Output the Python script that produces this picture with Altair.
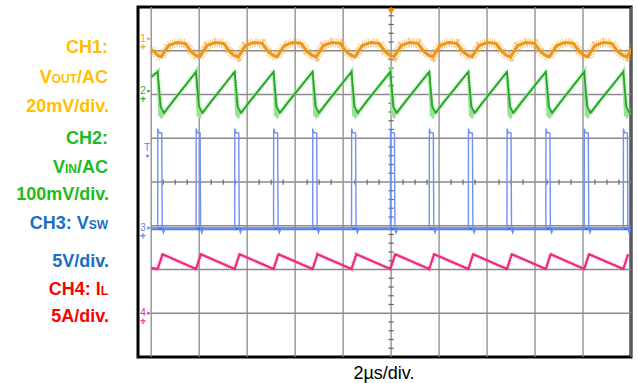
import altair as alt
import pandas as pd
import numpy as np

# ---------------- data ----------------
# time base: 2 us/div, screen spans -10 .. +10 us; vertical in divisions (-4 .. +4)
switch_t = [-9.73, -8.13, -6.52, -4.90, -3.27, -1.65, -0.03, 1.59, 3.22, 4.83, 6.45, 8.05, 9.68]

# CH1 VOUT/AC ripple (div) : start of trace + per-cycle shape (offset from switch, level)
ch1_start_t = [-10.0, -9.85]
ch1_start_v = [3.02, 2.97]
ch1_off = [0.00, 0.15, 0.45, 0.80, 1.15, 1.40]
ch1_lvl = [2.89, 2.86, 3.12, 3.19, 3.17, 2.98]

# CH2 VIN/AC (div): main trace and its lighter noise envelope
ch2_start_t = [-10.0]
ch2_start_v = [2.40]
ch2_off = [0.00, 0.06, 0.12, 0.26, 0.60]
ch2_lvl = [2.52, 2.14, 1.73, 1.58, 1.82]
ch2h_off = [0.00, 0.07, 0.11, 0.15, 0.22, 0.30, 0.60]
ch2h_lvl = [2.52, 1.50, 1.95, 1.45, 1.62, 1.58, 1.82]

# CH3 VSW (div)
ch3_base = -1.07
ch3_start_t = [-10.0]
ch3_start_v = [-1.07]
ch3_off = [0.00, 0.005, 0.05, 0.17, 0.19, 0.24, 0.30]
ch3_lvl = [-1.07, 1.22, 1.13, 1.12, -1.07, -1.16, -1.07]

# CH4 IL (div)
ch4_start_t = [-10.0]
ch4_start_v = [-1.96]
ch4_off = [0.00, 0.20]
ch4_lvl = [-1.99, -1.65]

# channel ground markers (div)
marker_names = ["1", "2", "3", "4"]
marker_lvl = [3.27, 2.08, -1.05, -3.0]
marker_col = ["#F0A030", "#2DB52D", "#5B82F0", "#EC2A7E"]
trig_lvl = 0.78
trig_time = 0.0

grid_t = [-10, -8, -6, -4, -2, 0, 2, 4, 6, 8, 10]
grid_v = [-3, -2, -1, 0, 1, 2, 3]

# ---------------- helpers ----------------
def build(st, sv, off, lvl):
    rows = list(zip(st, sv))
    for ts in switch_t:
        for o, l in zip(off, lvl):
            rows.append((ts + o, l))
    df = pd.DataFrame(rows, columns=["t", "v"])
    df["i"] = range(len(df))
    return df

XS = alt.Scale(domain=[-10.55, 10], nice=False, zero=False)
YS = alt.Scale(domain=[-4, 4], nice=False, zero=False)
X = alt.X("t:Q", scale=XS, axis=None)
Y = alt.Y("v:Q", scale=YS, axis=None)

def trace(df, **kw):
    return alt.Chart(df).mark_line(clip=True, interpolate="linear", **kw).encode(
        x=X, y=Y, order=alt.Order("i:Q"))

one = pd.DataFrame({"a": [0]})

# ---------------- grid ----------------
vg = pd.DataFrame({"t": grid_t}); vg["v"] = -4.0; vg["v2"] = 4.0
hg = pd.DataFrame({"v": grid_v}); hg["t"] = -10.0; hg["t2"] = 10.0
vgrid = alt.Chart(vg).mark_rule(color="#8a8a8a", strokeWidth=1.3).encode(x=X, y=Y, y2="v2:Q")
hgrid = alt.Chart(hg).mark_rule(color="#8a8a8a", strokeWidth=1.3).encode(y=Y, x=X, x2="t2:Q")

minor_v = [round(v, 2) for v in np.arange(-4, 4.001, 0.2) if abs(v - round(v)) > 1e-6]
minor_t = [round(t, 2) for t in np.arange(-10, 10.001, 0.5) if abs(t / 2 - round(t / 2)) > 1e-6]
mvd = pd.DataFrame({"v": minor_v}); mvd["t"] = -0.11; mvd["t2"] = 0.11
mtd = pd.DataFrame({"t": minor_t}); mtd["v"] = -0.06; mtd["v2"] = 0.06
mv = alt.Chart(mvd).mark_rule(color="#666666", strokeWidth=1.2).encode(y=Y, x=X, x2="t2:Q")
mt = alt.Chart(mtd).mark_rule(color="#666666", strokeWidth=1.2).encode(x=X, y=Y, y2="v2:Q")

# ---------------- traces ----------------
d1 = build(ch1_start_t, ch1_start_v, ch1_off, ch1_lvl)
d2 = build(ch2_start_t, ch2_start_v, ch2_off, ch2_lvl)
d2h = build(ch2_start_t, ch2_start_v, ch2h_off, ch2h_lvl)
d3 = build(ch3_start_t, ch3_start_v, ch3_off, ch3_lvl)
d4 = build(ch4_start_t, ch4_start_v, ch4_off, ch4_lvl)
base3 = pd.DataFrame({"t": [-10.0], "t2": [10.0], "v": [ch3_base]})

layers = [vgrid, hgrid, mv, mt]
layers += [
    trace(d1, color="#F2A63A", strokeWidth=9, strokeDash=[1, 1.2], opacity=0.6),
    trace(d1, color="#EE9618", strokeWidth=3),
    trace(d2h, color="#9ADF9A", strokeWidth=2.2),
    trace(d2, color="#9ADF9A", strokeWidth=5, strokeDash=[1, 1.5], opacity=0.7),
    trace(d2, color="#22A822", strokeWidth=1.8),
    alt.Chart(base3).mark_rule(color="#4070E8", strokeWidth=3).encode(y=Y, x=X, x2="t2:Q"),
    trace(d3, color="#7090F5", strokeWidth=1.4),
    trace(d4, color="#F06AA5", strokeWidth=4.5, strokeDash=[1, 1.5], opacity=0.5),
    trace(d4, color="#EC2A7E", strokeWidth=2.2),
]

# trigger position marker at top
trig = pd.DataFrame({"t": [trig_time], "v": [3.9]})
layers.append(alt.Chart(trig).mark_point(shape="triangle-down", filled=True, size=55, color="#F08A10", opacity=1).encode(
    x=X, y=Y))

# channel markers on the left edge
GROUND = "M -1 -0.2 L 1 -0.2 M -0.6 0.3 L 0.6 0.3 M -0.25 0.8 L 0.25 0.8 M 0 -1 L 0 -0.2"
mk = pd.DataFrame({"n": marker_names, "v": marker_lvl, "c": marker_col})
layers.append(alt.Chart(mk).mark_text(fontSize=10, font="Liberation Sans", align="center", baseline="middle").encode(
    x=alt.value(5), y=Y, text="n:N", color=alt.Color("c:N", scale=None)))
layers.append(alt.Chart(mk).mark_point(shape="triangle-right", filled=True, size=14, opacity=1).encode(
    x=alt.value(11), y=Y, color=alt.Color("c:N", scale=None)))
layers.append(alt.Chart(mk).mark_point(shape=GROUND, filled=False, size=30, strokeWidth=1, opacity=1, yOffset=8).encode(
    x=alt.value(5), y=Y, color=alt.Color("c:N", scale=None)))
tg = pd.DataFrame({"v": [trig_lvl]})
layers.append(alt.Chart(tg).mark_text(fontSize=10, font="Liberation Sans", color="#5B82F0", align="center",
                                      baseline="middle", text="T").encode(x=alt.value(9), y=Y))
layers.append(alt.Chart(tg).mark_point(shape="triangle-right", filled=True, size=14, opacity=1, color="#5B82F0",
                                       yOffset=8).encode(x=alt.value(10), y=Y))

# ---------------- left-hand labels ----------------
C1, C2, C3, C4 = "#FFC000", "#1EBB1E", "#1A6FC4", "#FF0000"
OX, OY = 138, 7   # plot origin in page pixels

def label(text, size, color, right, base):
    return alt.Chart(one).mark_text(text=text, font="Liberation Sans", fontWeight="bold", fontSize=size,
                                    color=color, align="right", baseline="alphabetic").encode(
        x=alt.value(right - OX), y=alt.value(base - OY))

R = 108
layers += [
    label("CH1:", 18, C1, R, 53),
    label("/AC", 18, C1, R, 83), label("OUT", 12, C1, R - 31, 83), label("V", 18, C1, R - 56.3, 83),
    label("20mV/div.", 18, C1, R + 1, 112),
    label("CH2:", 18, C2, R, 143.5),
    label("/AC", 18, C2, R, 173), label("IN", 12, C2, R - 31, 173), label("V", 18, C2, R - 43, 173),
    label("100mV/div.", 18, C2, R + 1, 200),
    label("SW", 12, C3, R, 229), label("CH3: V", 18, C3, R - 19.3, 229),
    label("5V/div.", 18, C3, R + 1, 267),
    label("L", 12, C4, R, 295), label("CH4: I", 18, C4, R - 7.3, 295),
    label("5A/div.", 18, C4, R + 1, 322),
]

# bottom caption
layers.append(alt.Chart(one).mark_text(text="2µs/div.", font="Liberation Sans", fontSize=18, color="black",
                                       align="center", baseline="alphabetic").encode(
    x=alt.value(384 - OX), y=alt.value(378.5 - OY)))

chart = alt.layer(*layers).properties(
    width=493, height=350,
    padding={"left": 138, "top": 7, "right": 7, "bottom": 26},
    autosize=alt.AutoSizeParams(type="none"),
    background="white",
).configure_view(stroke="black", strokeWidth=3)

chart.save("out.html", embed_options={"renderer": "svg", "actions": False})
